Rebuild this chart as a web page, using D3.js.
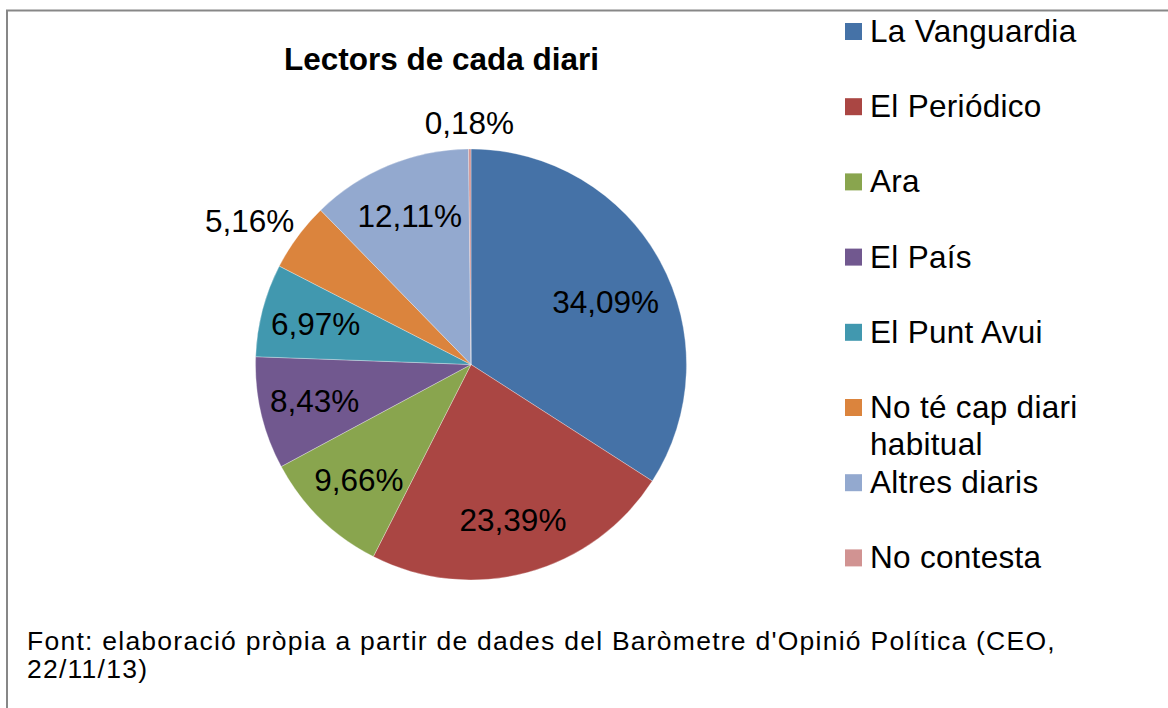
<!DOCTYPE html>
<html>
<head>
<meta charset="utf-8">
<script src="https://cdn.jsdelivr.net/npm/d3@7"></script>
<style>
  body { margin: 0; background: #fff; }
  svg { display: block; font-family: "Liberation Sans", Arial, sans-serif; }
</style>
</head>
<body>
<svg id="chart" width="1168" height="708"></svg>
<script>
// ===========================//
// DATA
// ===========================//

var categories = ["La Vanguardia", "El Periódico", "Ara", "El País", "El Punt Avui",
                  "No té cap diari habitual", "Altres diaris", "No contesta"]
var values = [34.09, 23.39, 9.66, 8.43, 6.97, 5.16, 12.11, 0.18]

// legend text, wrapped as in the original
var legendLines = [["La Vanguardia"], ["El Periódico"], ["Ara"], ["El País"], ["El Punt Avui"],
                   ["No té cap diari", "habitual"], ["Altres diaris"], ["No contesta"]]

var title = "Lectors de cada diari"
var footer = ["Font: elaboració pròpia a partir de dades del Baròmetre d'Opinió Política (CEO,",
              "22/11/13)"]

// Excel 2007 palette
var color = d3.scaleOrdinal()
  .domain(categories)
  .range(["#4572A7", "#AA4643", "#89A54E", "#71588F", "#4198AF", "#DB843D", "#93A9CF", "#D19392"])

// comma as decimal mark
var locale = d3.formatLocale({decimal: ",", thousands: ".", grouping: [3], currency: ["", "€"]})
var fmt = function(v){ return locale.format(".2f")(v) + "%" }


// ===========================//
// FRAME + TITLE
// ===========================//

var svg = d3.select("#chart")

svg.append("rect")
  .attr("x", 7).attr("y", 10.5)
  .attr("width", 1200).attr("height", 800)
  .attr("fill", "none")
  .attr("stroke", "#878787")
  .attr("stroke-width", 2)

svg.append("text")
  .attr("x", 441.5).attr("y", 69.5)
  .attr("text-anchor", "middle")
  .style("font-size", "31.5px")
  .style("font-weight", "bold")
  .text(title)


// ===========================//
// PIE
// ===========================//

var cx = 471, cy = 364.5, radius = 215.5

var pie = d3.pie()
  .sort(null)
  .value(function(d){ return d })

var arcs = pie(values)

var arc = d3.arc().innerRadius(0).outerRadius(radius)

var g = svg.append("g").attr("transform", "translate(" + cx + "," + cy + ")")

g.selectAll("path")
  .data(arcs)
  .enter()
  .append("path")
    .attr("d", arc)
    .attr("fill", function(d, i){ return color(categories[i]) })
    .attr("stroke", "#ffffff")
    .attr("stroke-opacity", 0.5)
    .attr("stroke-width", 0.6)

// labels: inside for big slices (pulled in a bit for the biggest), outside for small ones
g.selectAll(".pieLabel")
  .data(arcs)
  .enter()
  .append("text")
    .attr("class", "pieLabel")
    .style("font-size", "31.5px")
    .attr("text-anchor", "middle")
    .attr("dy", "0.36em")
    .text(function(d){ return fmt(d.value) })
    .attr("transform", function(d){
      var a = (d.startAngle + d.endAngle) / 2
      if (d.value >= 6) {
        var f = 0.745
        if (d.value > 30) { f = 0.69; a = a + 0.06 }
        return "translate(" + (Math.sin(a) * radius * f) + "," + (-Math.cos(a) * radius * f) + ")"
      }
      var w = this.getComputedTextLength()
      var r = radius + 15
      var x = Math.sin(a) * r + Math.sin(a) * w / 2
      var y = -Math.cos(a) * r - Math.cos(a) * 11.5
      return "translate(" + x + "," + y + ")"
    })


// ===========================//
// LEGEND
// ===========================//

var legendY = d3.scalePoint()
  .domain(categories)
  .range([42, 568.4])

var item = svg.append("g").selectAll(".legendItem")
  .data(categories)
  .enter()
  .append("g")
    .attr("class", "legendItem")
    .attr("transform", function(d){ return "translate(0," + legendY(d) + ")" })

item.append("rect")
  .attr("x", 845).attr("y", -19)
  .attr("width", 17).attr("height", 17)
  .attr("fill", function(d){ return color(d) })

item.append("text")
  .style("font-size", "31.5px")
  .style("letter-spacing", "0.3px")
  .selectAll("tspan")
  .data(function(d, i){ return legendLines[i] })
  .enter()
  .append("tspan")
    .attr("x", 870)
    .attr("y", function(d, j){ return j * 37 })
    .text(function(d){ return d })


// ===========================//
// FOOTER
// ===========================//

svg.append("text")
  .style("font-size", "26.5px")
  .style("letter-spacing", "1.25px")
  .selectAll("tspan")
  .data(footer)
  .enter()
  .append("tspan")
    .attr("x", 27)
    .attr("y", function(d, i){ return 649.5 + i * 28.5 })
    .text(function(d){ return d })
</script>
</body>
</html>
